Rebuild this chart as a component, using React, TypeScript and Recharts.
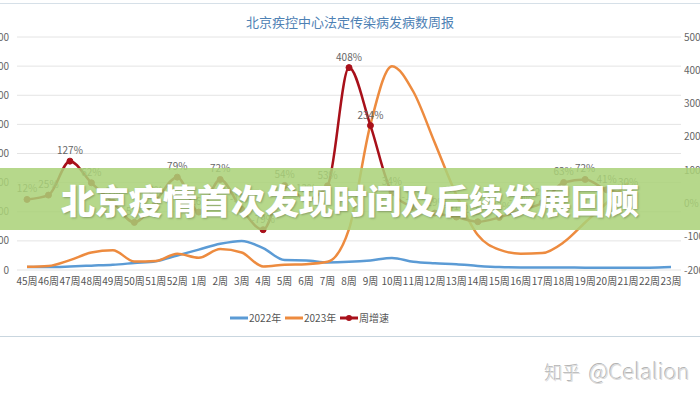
import { CartesianGrid, LabelList, Line, LineChart, XAxis, YAxis } from "recharts";

const weeks = [
  "45周", "46周", "47周", "48周", "49周", "50周", "51周", "52周",
  "1周", "2周", "3周", "4周", "5周", "6周", "7周", "8周", "9周", "10周",
  "11周", "12周", "13周", "14周", "15周", "16周", "17周", "18周", "19周",
  "20周", "21周", "22周", "23周",
];

// weekly case counts (left axis)
const cases2022 = [
  10, 10, 12, 15, 18, 24, 30, 50, 70, 90, 100, 75, 34, 33, 26, 28, 33, 41,
  28, 23, 20, 14, 10, 9, 9, 9, 8, 8, 8, 8, 10,
];
const cases2023 = [
  11, 14, 34, 60, 68, 29, 31, 56, 42, 72, 60, 12, 18, 20, 28, 140, 500, 700,
  612, 436, 258, 120, 70, 56, 58, 95, 163, 230, 300, null, null,
];
// week-on-week growth in % (right axis)
const growth = [
  12, 25, 127, 62, 3, -57, 8, 79, -26, 72, -18, -79, 54, 12, 53, 408, 234, 34,
  -12, -29, -41, -55, -42, -20, 2, 63, 72, 41, 30, null, null,
];

const leftTicks = [0, 100, 200, 300, 400, 500, 600, 700, 800];
const rightTicks = [-200, -100, 0, 100, 200, 300, 400, 500];

const data = weeks.map((week, i) => ({
  week,
  y2022: cases2022[i],
  y2023: cases2023[i],
  growth: growth[i],
}));

const BLUE = "#5b9bd5";
const ORANGE = "#ed8b3f";
const RED = "#a8101a";
const FONT = "'Noto Sans CJK SC', 'Noto Sans', sans-serif";

function LegendItem({ color, label, dot, left }: { color: string; label: string; dot?: boolean; left: number }) {
  return (
    <div style={{ position: "absolute", left, top: 310, display: "flex", alignItems: "center", fontSize: 10, color: "#555" }}>
      <svg width={18} height={12}>
        <line x1={0} y1={6} x2={18} y2={6} stroke={color} strokeWidth={3} />
        {dot && <circle cx={9} cy={6} r={3} fill={color} />}
      </svg>
      <span style={{ marginLeft: 1 }}>{label}</span>
    </div>
  );
}

export default function App() {
  return (
    <div
      style={{
        position: "absolute",
        left: 0,
        top: 0,
        width: 700,
        height: 400,
        overflow: "hidden",
        background: "#fff",
        fontFamily: FONT,
      }}
    >
      <div style={{ position: "absolute", left: 0, top: 3, width: 700, height: 332, borderTop: "1px solid #d6e0e8", borderBottom: "1px solid #c9d6df" }} />
      <div style={{ position: "absolute", left: 0, top: 12, width: 700, textAlign: "center", fontSize: 13, color: "#4e81b4" }}>
        北京疾控中心法定传染病发病数周报
      </div>

      <div style={{ position: "absolute", left: -40, top: 0 }}>
        <LineChart width={780} height={400} data={data} margin={{ top: 37, right: 19, left: 0, bottom: 100 }}>
          <CartesianGrid yAxisId="left" vertical={false} stroke="#e4e4e4" />
          <XAxis
            dataKey="week"
            interval={0}
            tickLine={false}
            axisLine={false}
            padding={{ left: 10, right: 10 }}
            height={30}
            tick={{ fontSize: 10, fill: "#555", fontFamily: FONT }}
          />
          <YAxis
            yAxisId="left"
            width={57}
            domain={[0, 800]}
            ticks={leftTicks}
            tickLine={false}
            axisLine={false}
            tick={{ fontSize: 10, fill: "#666", fontFamily: FONT }}
          />
          <YAxis
            yAxisId="right"
            orientation="right"
            width={40}
            domain={[-200, 500]}
            ticks={rightTicks}
            tickSize={0}
            tickMargin={3}
            tickLine={false}
            axisLine={false}
            tickFormatter={(v: number) => `${v}%`}
            tick={{ fontSize: 10, fill: "#666", fontFamily: FONT }}
          />
          <Line
            yAxisId="left"
            type="monotone"
            dataKey="y2022"
            stroke={BLUE}
            strokeWidth={2.5}
            dot={false}
            isAnimationActive={false}
          />
          <Line
            yAxisId="left"
            type="monotone"
            dataKey="y2023"
            stroke={ORANGE}
            strokeWidth={2.5}
            dot={false}
            isAnimationActive={false}
          />
          <Line
            yAxisId="right"
            type="monotone"
            dataKey="growth"
            stroke={RED}
            strokeWidth={2.5}
            dot={{ r: 3, fill: RED, stroke: RED, strokeWidth: 1 }}
            isAnimationActive={false}
          >
            <LabelList
              dataKey="growth"
              position="top"
              offset={7}
              fontSize={10}
              fill="#666"
              fontFamily={FONT}
              formatter={(v: any) => (v == null ? "" : `${v}%`)}
            />
          </Line>
        </LineChart>
      </div>

      <LegendItem color={BLUE} label="2022年" left={230} />
      <LegendItem color={ORANGE} label="2023年" left={285} />
      <LegendItem color={RED} label="周增速" dot left={340} />

      <div
        style={{
          position: "absolute",
          left: 0,
          top: 168,
          width: 700,
          height: 62,
          background: "rgba(170, 210, 120, 0.86)",
          display: "flex",
          alignItems: "center",
          justifyContent: "center",
        }}
      >
        <span
          style={{
            fontSize: 34,
            fontWeight: 900,
            color: "#fff",
            lineHeight: 1,
            marginTop: 1,
            textShadow: "1px 1px 2px rgba(0,0,0,0.25)",
          }}
        >
          北京疫情首次发现时间及后续发展回顾
        </span>
      </div>

      <div
        style={{
          position: "absolute",
          left: 545,
          top: 354,
          color: "#dcdcdc",
          whiteSpace: "nowrap",
          fontWeight: 300,
          textShadow: "-1px -1px 0 #b4b4b4, 1px 1px 0 #fff",
        }}
      >
        <span style={{ fontSize: 18 }}>知乎</span>
        <span style={{ fontSize: 22, marginLeft: 8 }}>@Celalion</span>
      </div>
    </div>
  );
}
